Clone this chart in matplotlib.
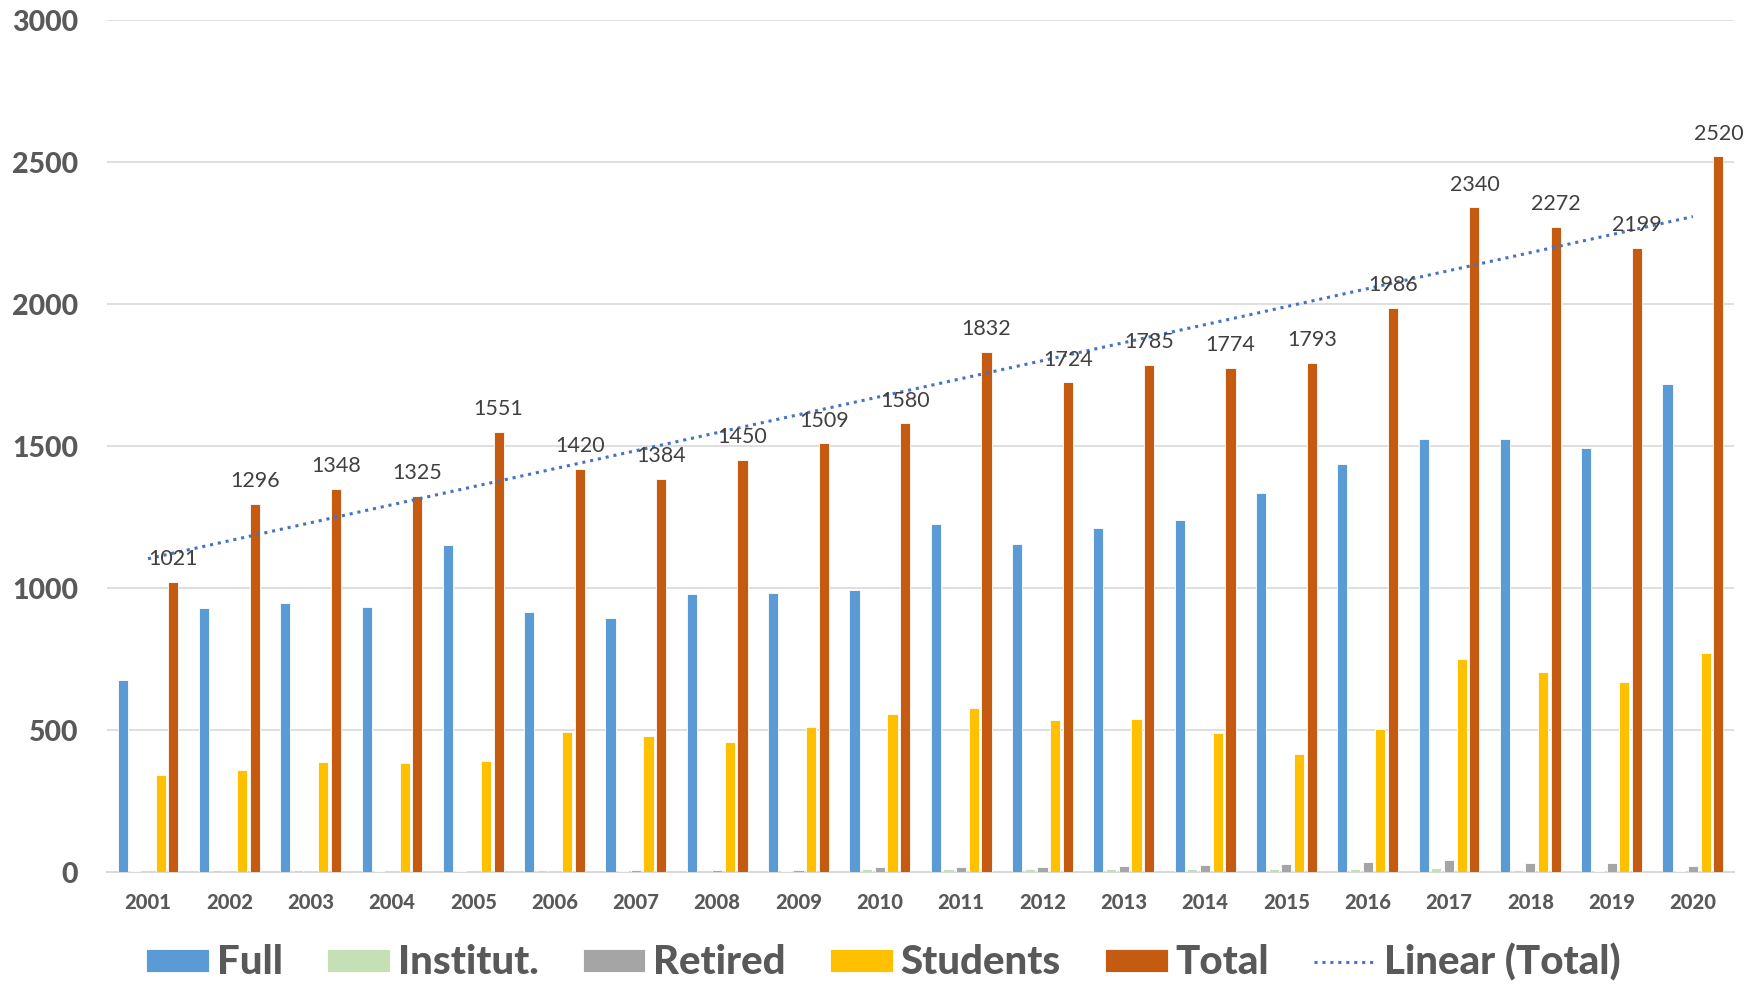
import matplotlib.pyplot as plt
import numpy as np

plt.rcParams['font.family'] = ['Lato', 'DejaVu Sans']

# Data
years = [str(y) for y in range(2001, 2021)]
full = [676, 929, 949, 933, 1150, 917, 893, 980, 984, 992,
        1225, 1154, 1213, 1241, 1336, 1435, 1526, 1526, 1494, 1719]
institut = [2, 6, 6, 4, 4, 6, 2, 1, 4, 9,
            11, 11, 11, 11, 11, 11, 13, 6, 2, 2]
retired = [0, 0, 0, 0, 0, 0, 6, 6, 6, 16,
           16, 19, 21, 26, 27, 34, 41, 31, 31, 20]
students = [340, 360, 387, 383, 391, 494, 478, 458, 510, 557,
            577, 534, 538, 490, 415, 502, 751, 704, 668, 771]
total = [1021, 1296, 1348, 1325, 1551, 1420, 1384, 1450, 1509, 1580,
         1832, 1724, 1785, 1774, 1793, 1986, 2340, 2272, 2199, 2520]

series = [
    ("Full", full, "#5B9BD5"),
    ("Institut.", institut, "#C5E0B4"),
    ("Retired", retired, "#A5A5A5"),
    ("Students", students, "#FFC000"),
    ("Total", total, "#C55A11"),
]

TEXT = "#595959"

fig = plt.figure(figsize=(17.6, 9.86), dpi=100)
ax = fig.add_axes([0.061, 0.1156, 0.924, 0.8641])

x = np.arange(len(years))
pitch = 0.156
width = 0.125
handles = []
for i, (name, vals, color) in enumerate(series):
    off = (i - 2) * pitch
    b = ax.bar(x + off, vals, width, color=color, edgecolor="white",
               linewidth=0.6, label=name, zorder=3)
    handles.append(b)

# data labels on Total
for xi, v in zip(x, total):
    ax.text(xi + 2 * pitch, v + 45, str(v), ha="center", va="bottom",
            fontsize=15.5, color="#404040", zorder=5)

# linear trend of Total
coef = np.polyfit(x, total, 1)
trend, = ax.plot(x, np.polyval(coef, x), linestyle=(0, (1, 1.6)),
                 color="#4472C4", linewidth=2.2, label="Linear (Total)",
                 zorder=4)
handles.append(trend)

ax.set_xlim(-0.5, len(years) - 0.5)
ax.set_ylim(0, 3000)
ax.set_yticks(range(0, 3001, 500))
ax.set_xticks(x)
ax.set_xticklabels(years)
ax.grid(axis="y", color="#D9D9D9", linewidth=1.2, zorder=0)
for s in ["top", "right", "left"]:
    ax.spines[s].set_visible(False)
ax.spines["bottom"].set_color("#D9D9D9")
ax.spines["bottom"].set_linewidth(1.5)
ax.tick_params(axis="both", length=0)
ax.tick_params(axis="y", labelsize=20.5, labelcolor=TEXT, pad=21)
ax.tick_params(axis="x", labelsize=14.5, labelcolor=TEXT, pad=15)
for lbl in ax.get_xticklabels() + ax.get_yticklabels():
    lbl.set_fontweight("black")

leg = fig.legend(handles=handles,
                 labels=[s[0] for s in series] + ["Linear (Total)"],
                 loc="center", bbox_to_anchor=(0.502, 0.024), ncol=6,
                 frameon=False, handlelength=1.55,
                 handleheight=0.5, handletextpad=0.2, columnspacing=1.1,
                 prop={"weight": "black", "size": 29})
for t in leg.get_texts():
    t.set_color(TEXT)

fig.savefig("out.png", dpi=100)
